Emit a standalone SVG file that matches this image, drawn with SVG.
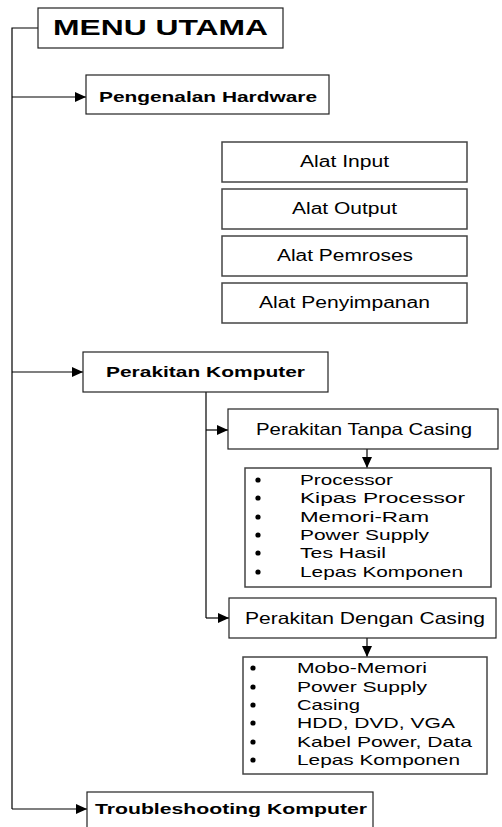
<svg xmlns="http://www.w3.org/2000/svg" width="502" height="827" viewBox="0 0 502 827">
<defs>
<marker id="ah" markerWidth="12" markerHeight="10" refX="11" refY="5" orient="auto" markerUnits="userSpaceOnUse">
<path d="M0,0 L11,5 L0,10 Z" fill="#000"/>
</marker>
<style>
.box{fill:#fff;stroke:#222;stroke-width:1.2}
.gbox{fill:#fff;stroke:#444;stroke-width:1.5}
.ln{fill:none;stroke:#000;stroke-width:1.2}
.b{font-family:"Liberation Sans",Arial,sans-serif;font-weight:bold;fill:#000}
.r{font-family:"Liberation Sans",Arial,sans-serif;fill:#000}
.dot{fill:#000}
</style>
</defs>
<rect width="502" height="827" fill="#fff"/>
<g id="connectors">
<path class="ln" d="M38,28 H12 V809"/>
<path class="ln" d="M12,97 H86" marker-end="url(#ah)"/>
<path class="ln" d="M12,372 H83" marker-end="url(#ah)"/>
<path class="ln" d="M12,809 H87" marker-end="url(#ah)"/>
<path class="ln" d="M206,392 V618"/>
<path class="ln" d="M206,430 H228" marker-end="url(#ah)"/>
<path class="ln" d="M206,618 H229" marker-end="url(#ah)"/>
<path class="ln" d="M367,449 V468" marker-end="url(#ah)"/>
<path class="ln" d="M367,638 V657" marker-end="url(#ah)"/>
</g>
<g id="menu-utama">
<rect class="box" x="38" y="8" width="245" height="40"/>
<text class="b" x="53" y="35" font-size="22" textLength="215" lengthAdjust="spacingAndGlyphs">MENU UTAMA</text>
</g>
<g id="pengenalan-hardware">
<rect class="box" x="86" y="75" width="243" height="39"/>
<text class="b" x="99" y="102" font-size="15" textLength="218" lengthAdjust="spacingAndGlyphs">Pengenalan Hardware</text>
</g>
<g id="alat-input">
<rect class="gbox" x="222" y="142" width="245" height="40"/>
<text class="r" x="300" y="167" font-size="16" textLength="89" lengthAdjust="spacingAndGlyphs">Alat Input</text>
</g>
<g id="alat-output">
<rect class="gbox" x="222" y="189" width="245" height="40"/>
<text class="r" x="292" y="214" font-size="16" textLength="105" lengthAdjust="spacingAndGlyphs">Alat Output</text>
</g>
<g id="alat-pemroses">
<rect class="gbox" x="222" y="236" width="245" height="40"/>
<text class="r" x="277" y="261" font-size="16" textLength="136" lengthAdjust="spacingAndGlyphs">Alat Pemroses</text>
</g>
<g id="alat-penyimpanan">
<rect class="gbox" x="222" y="283" width="245" height="40"/>
<text class="r" x="259" y="308" font-size="16" textLength="171" lengthAdjust="spacingAndGlyphs">Alat Penyimpanan</text>
</g>
<g id="perakitan-komputer">
<rect class="box" x="83" y="352" width="245" height="40"/>
<text class="b" x="106" y="377" font-size="15.5" textLength="199" lengthAdjust="spacingAndGlyphs">Perakitan Komputer</text>
</g>
<g id="perakitan-tanpa-casing">
<rect class="box" x="228" y="409" width="270" height="40"/>
<text class="r" x="256" y="435" font-size="16.5" textLength="216" lengthAdjust="spacingAndGlyphs">Perakitan Tanpa Casing</text>
</g>
<g id="list-tanpa-casing">
<rect class="gbox" x="245" y="468" width="246" height="119"/>
<g class="dot">
<circle cx="258" cy="480" r="2.6"/>
<circle cx="258" cy="498" r="2.6"/>
<circle cx="258" cy="517" r="2.6"/>
<circle cx="258" cy="535" r="2.6"/>
<circle cx="258" cy="553" r="2.6"/>
<circle cx="258" cy="572" r="2.6"/>
</g>
<text class="r" x="300" y="485" font-size="15" textLength="93" lengthAdjust="spacingAndGlyphs">Processor</text>
<text class="r" x="300" y="503" font-size="15" textLength="165" lengthAdjust="spacingAndGlyphs">Kipas Processor</text>
<text class="r" x="300" y="522" font-size="15" textLength="129" lengthAdjust="spacingAndGlyphs">Memori-Ram</text>
<text class="r" x="300" y="540" font-size="15" textLength="129" lengthAdjust="spacingAndGlyphs">Power Supply</text>
<text class="r" x="300" y="558" font-size="15" textLength="86" lengthAdjust="spacingAndGlyphs">Tes Hasil</text>
<text class="r" x="300" y="577" font-size="15" textLength="163" lengthAdjust="spacingAndGlyphs">Lepas Komponen</text>
</g>
<g id="perakitan-dengan-casing">
<rect class="box" x="229" y="598" width="267" height="40"/>
<text class="r" x="245" y="624" font-size="16.5" textLength="240" lengthAdjust="spacingAndGlyphs">Perakitan Dengan Casing</text>
</g>
<g id="list-dengan-casing">
<rect class="gbox" x="243" y="657" width="244" height="117"/>
<g class="dot">
<circle cx="253" cy="668" r="2.6"/>
<circle cx="253" cy="687" r="2.6"/>
<circle cx="253" cy="705" r="2.6"/>
<circle cx="253" cy="723" r="2.6"/>
<circle cx="253" cy="742" r="2.6"/>
<circle cx="253" cy="760" r="2.6"/>
</g>
<text class="r" x="297" y="673" font-size="15" textLength="130" lengthAdjust="spacingAndGlyphs">Mobo-Memori</text>
<text class="r" x="297" y="692" font-size="15" textLength="130" lengthAdjust="spacingAndGlyphs">Power Supply</text>
<text class="r" x="297" y="710" font-size="15" textLength="63" lengthAdjust="spacingAndGlyphs">Casing</text>
<text class="r" x="297" y="728" font-size="15" textLength="158" lengthAdjust="spacingAndGlyphs">HDD, DVD, VGA</text>
<text class="r" x="297" y="747" font-size="15" textLength="175" lengthAdjust="spacingAndGlyphs">Kabel Power, Data</text>
<text class="r" x="297" y="765" font-size="15" textLength="163" lengthAdjust="spacingAndGlyphs">Lepas Komponen</text>
</g>
<g id="troubleshooting-komputer">
<rect class="box" x="87" y="792" width="286" height="45"/>
<text class="b" x="95" y="814" font-size="15" textLength="272" lengthAdjust="spacingAndGlyphs">Troubleshooting Komputer</text>
</g>
</svg>
